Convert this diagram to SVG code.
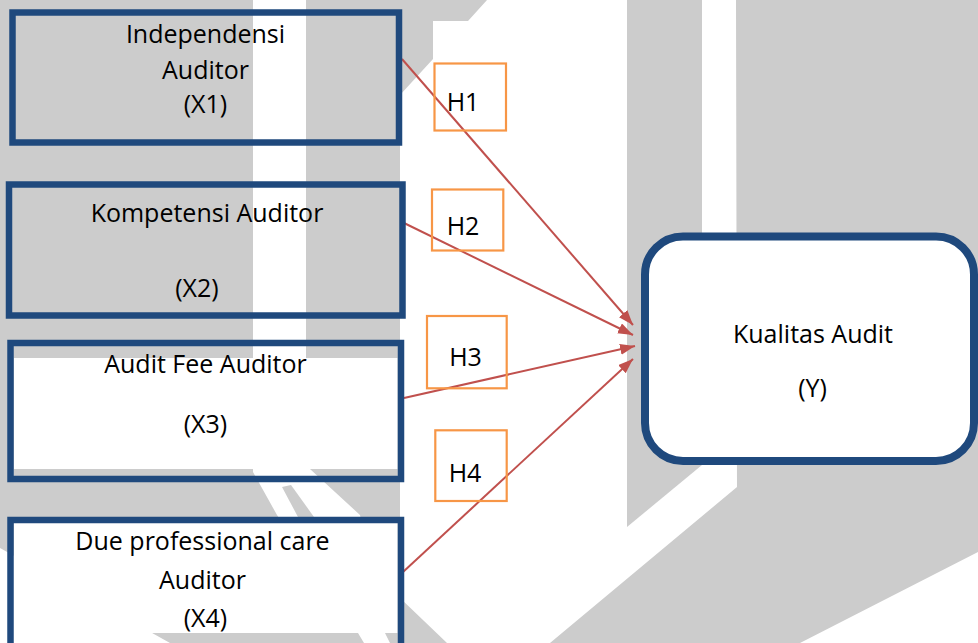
<svg xmlns="http://www.w3.org/2000/svg" width="978" height="643" viewBox="0 0 978 643">
<style>
.wm{fill:#CCCCCC;stroke:none}
.box{fill:none;stroke:#1F497D;stroke-width:6.5}
.hbox{fill:none;stroke:#F79646;stroke-width:2.2}
.t{font-family:"Open Sans","Noto Sans",sans-serif;font-size:25px;fill:#000;text-anchor:middle}
.arr{stroke:#C0504D;stroke-width:2;fill:none;marker-end:url(#ah)}
</style>
<defs>
<marker id="ah" markerUnits="userSpaceOnUse" markerWidth="16" markerHeight="12" refX="15" refY="5.5" orient="auto">
<path d="M0,0 L15,5.5 L0,11 z" fill="#C0504D"/>
</marker>
</defs>
<rect width="978" height="643" fill="#FFFFFF"/>
<g id="watermark">
<polygon class="wm" points="0,0 253,0 253,472 277,515 358,633 364,643 170,643 0,548"/>
<polygon class="wm" points="306,0 487,0 468,21 433,21 433,59 400,95 400,598 447,643 390,643 385,633 360,515 310,469 306,469"/>
<polygon class="wm" points="282,487 291,485 314,517 298,517"/>
<polygon class="wm" points="627,0 702,0 702,465 627,527"/>
<polygon class="wm" points="736,0 978,0 978,552 800,643 550,643 737,487"/>
</g>
<g id="connectors">
<line class="arr" x1="402" y1="59" x2="633" y2="325"/>
<line class="arr" x1="404" y1="223" x2="633" y2="335"/>
<line class="arr" x1="404" y1="398" x2="635" y2="346"/>
<line class="arr" x1="403" y1="572" x2="633" y2="359"/>
</g>
<g id="X1">
<rect class="box" x="12.5" y="12.5" width="386.5" height="130"/>
<text class="t" x="205.5" y="43">Independensi</text>
<text class="t" x="205.5" y="79">Auditor</text>
<text class="t" x="205.5" y="113">(X1)</text>
</g>
<g id="X2">
<rect class="box" x="9" y="184.5" width="393.5" height="131"/>
<text class="t" x="207" y="222">Kompetensi Auditor</text>
<text class="t" x="197" y="297">(X2)</text>
</g>
<g id="X3">
<rect x="14" y="358" width="383.5" height="111" fill="#FFFFFF"/>
<rect class="box" x="10.5" y="343" width="390.5" height="136"/>
<text class="t" x="205.5" y="373">Audit Fee Auditor</text>
<text class="t" x="205.5" y="433">(X3)</text>
</g>
<g id="X4">
<rect x="14" y="523" width="383.5" height="110" fill="#FFFFFF"/>
<rect class="box" x="10.5" y="520" width="390.5" height="140"/>
<text class="t" x="202.5" y="550">Due professional care</text>
<text class="t" x="202.5" y="589">Auditor</text>
<text class="t" x="205.5" y="627">(X4)</text>
</g>
<g id="Y">
<rect x="645" y="236.5" width="329" height="224.5" rx="38" ry="38" fill="#FFFFFF" stroke="#1F497D" stroke-width="8"/>
<text class="t" x="813" y="343">Kualitas Audit</text>
<text class="t" x="812.5" y="397">(Y)</text>
</g>
<g id="H1">
<rect class="hbox" x="434.5" y="63.5" width="71.5" height="67"/>
<text class="t" x="463" y="111">H1</text>
</g>
<g id="H2">
<rect class="hbox" x="432" y="189.5" width="71.3" height="61"/>
<text class="t" x="463" y="235">H2</text>
</g>
<g id="H3">
<rect class="hbox" x="427" y="316" width="79.7" height="72.3"/>
<text class="t" x="465.5" y="366">H3</text>
</g>
<g id="H4">
<rect class="hbox" x="435.3" y="430.3" width="71.4" height="70.7"/>
<text class="t" x="465" y="482">H4</text>
</g>
</svg>
